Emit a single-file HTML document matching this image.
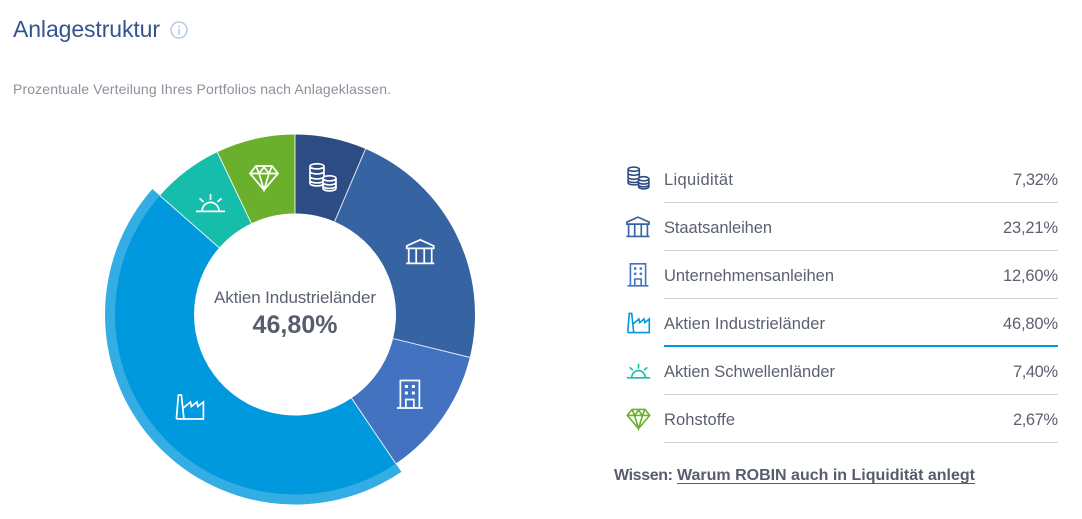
<!DOCTYPE html>
<html lang="de">
<head>
<meta charset="utf-8">
<title>Anlagestruktur</title>
<style>
html,body{margin:0;padding:0;background:#fff;width:1082px;height:519px;overflow:hidden}
svg{display:block}
text{font-family:"Liberation Sans",sans-serif}
.row-label,.row-value{font-size:16.5px;fill:#5b6170}
.row-value{text-anchor:end}
.icon{fill:none;stroke-width:1.7;stroke-linejoin:miter}
.legend-icon{stroke-width:2}
</style>
</head>
<body>
<svg id="chart" xmlns="http://www.w3.org/2000/svg" width="1082" height="519" viewBox="0 0 1082 519">
<defs>
<g id="ic-coins">
<path style="fill:var(--bg,none)" d="M-13,-11 V6 A7,2.6 0 0 0 1,6 V-11 A7,2.6 0 0 0 -13,-11 A7,2.6 0 0 0 1,-11 M-13,-6 A7,2.6 0 0 0 1,-6 M-13,-1 A7,2.6 0 0 0 1,-1 M-13,3 A7,2.6 0 0 0 1,3"/>
<path style="fill:var(--bg,none)" d="M0,1 V11 A6.5,2.6 0 0 0 13,11 V1 A6.5,2.6 0 0 0 0,1 A6.5,2.6 0 0 0 13,1 M0,5 A6.5,2.6 0 0 0 13,5 M0,8.5 A6.5,2.6 0 0 0 13,8.5"/>
</g>
<g id="ic-bank">
<path d="M-13.5,-3.5 V-6 L0,-12 L13.5,-6 V-3.5 Z M-14,11.5 H14 M-11.5,-3.5 V11.5 M-4,-3.5 V11.5 M4,-3.5 V11.5 M11.5,-3.5 V11.5"/>
</g>
<g id="ic-building">
<path d="M-9.5,13.5 V-14 H9.5 V13.5 M-13,13.5 H13 M-4,13.5 V5 H4 V13.5"/>
<path style="fill:currentColor;stroke:none" d="M-5,-9.5 h3 v3 h-3z M2,-9.5 h3 v3 h-3z M-5,-3 h3 v3 h-3z M2,-3 h3 v3 h-3z"/>
</g>
<g id="ic-factory">
<path d="M-13.5,12 L-11.5,-12 H-8.5 L-6,12 M-13.5,12 H13.5 V-5 L8,-0.5 L7,-5 L1.5,-0.5 L0.5,-5 L-6.6,1"/>
</g>
<g id="ic-sunrise">
<path d="M-14.5,8.5 H14.5 M-8.5,8.5 A8.5,9 0 0 1 8.5,8.5 M0,-9 V-3 M-11,-4.5 L-7,-1 M11,-4.5 L7,-1"/>
</g>
<g id="ic-diamond">
<path d="M-8,-12 H8 L14,-4.5 L0,12 L-14,-4.5 Z M-14,-4.5 H14 M-8,-12 L-5,-4.5 L0,12 L5,-4.5 L8,-12 M-5,-4.5 L0,-11 L5,-4.5"/>
</g>
</defs>

<text x="13" y="37" font-size="23" textLength="147" fill="#33558f">Anlagestruktur</text>
<g>
<circle cx="179" cy="30" r="8" fill="none" stroke="#a9c2e6" stroke-width="1.3"/>
<rect x="178.3" y="29" width="1.4" height="5.5" fill="#a9c2e6"/>
<rect x="178.3" y="25.8" width="1.4" height="1.6" fill="#a9c2e6"/>
</g>
<text x="13" y="94" font-size="14" textLength="378" fill="#8b909c">Prozentuale Verteilung Ihres Portfolios nach Anlageklassen.</text>

<g id="donut"></g>

<text x="295" y="303" font-size="17" text-anchor="middle" textLength="162" fill="#5b6170">Aktien Industrieländer</text>
<text x="295" y="333" font-size="25" font-weight="bold" text-anchor="middle" textLength="85" fill="#575d6c">46,80%</text>

<g>
<use href="#ic-coins" class="icon legend-icon" transform="translate(638.5 178) scale(.8)" stroke="#2c4c83" style="--bg:#fff"/>
<text class="row-label" x="664" y="185" textLength="69">Liquidität</text>
<text class="row-value" x="1058" y="185" textLength="45">7,32%</text>
<rect x="664" y="202" width="394" height="1" fill="#d0d1d5"/>
</g>
<g>
<use href="#ic-bank" class="icon legend-icon" transform="translate(638 227) scale(.82)" stroke="#3664a3"/>
<text class="row-label" x="664" y="233" textLength="108">Staatsanleihen</text>
<text class="row-value" x="1058" y="233" textLength="55">23,21%</text>
<rect x="664" y="250" width="394" height="1" fill="#d0d1d5"/>
</g>
<g>
<use href="#ic-building" class="icon legend-icon" transform="translate(638 275) scale(.8)" stroke="#4272c0" color="#4272c0"/>
<text class="row-label" x="664" y="281" textLength="170">Unternehmensanleihen</text>
<text class="row-value" x="1058" y="281" textLength="55">12,60%</text>
<rect x="664" y="298" width="394" height="1" fill="#d0d1d5"/>
</g>
<g>
<use href="#ic-factory" class="icon legend-icon" transform="translate(638.5 323) scale(.8)" stroke="#0099dd"/>
<text class="row-label" x="664" y="329" textLength="161">Aktien Industrieländer</text>
<text class="row-value" x="1058" y="329" textLength="55">46,80%</text>
<rect x="664" y="345" width="394" height="2" fill="#0099dd"/>
</g>
<g>
<use href="#ic-sunrise" class="icon legend-icon" transform="translate(638.5 371) scale(.8)" stroke="#15bdaa"/>
<text class="row-label" x="664" y="377" textLength="171">Aktien Schwellenländer</text>
<text class="row-value" x="1058" y="377" textLength="45">7,40%</text>
<rect x="664" y="394" width="394" height="1" fill="#d0d1d5"/>
</g>
<g>
<use href="#ic-diamond" class="icon legend-icon" transform="translate(638.5 419) scale(.8)" stroke="#6bb02c"/>
<text class="row-label" x="664" y="425" textLength="71">Rohstoffe</text>
<text class="row-value" x="1058" y="425" textLength="45">2,67%</text>
<rect x="664" y="442" width="394" height="1" fill="#d0d1d5"/>
</g>

<text x="614" y="480" font-size="16" font-weight="bold" textLength="59" fill="#575d6c">Wissen:</text>
<g>
<text x="677" y="480" font-size="16" font-weight="bold" textLength="298" fill="#575d6c">Warum ROBIN auch in Liquidität anlegt</text>
<rect x="677" y="483" width="298" height="1" fill="#575d6c"/>
</g>
</svg>

<script>
// Arc shares as drawn in the picture (percent of the ring, read from the slice boundaries)
const sliceNames = ['liquiditaet', 'staatsanleihen', 'unternehmensanleihen', 'aktien-industrielaender', 'aktien-schwellenlaender', 'rohstoffe'];
const sliceShares = [6.4, 22.4, 11.7, 45.9, 6.4, 7.1];
const activeSlice = 'aktien-industrielaender';

const sliceColors = ['#2c4c83', '#3664a3', '#4272c0', '#0099dd', '#15bdaa', '#6bb02c'];
const sliceIcons = ['ic-coins', 'ic-bank', 'ic-building', 'ic-factory', 'ic-sunrise', 'ic-diamond'];

const NS = 'http://www.w3.org/2000/svg';
const cx = 295, cy = 314.5, rInner = 101, rOuter = 180, rActive = 190, rIcon = 140;
const donut = document.getElementById('donut');
const total = sliceShares.reduce((a, b) => a + b, 0);

function angleOf(share) { return share / total * Math.PI * 2; }
function px(r, a) { return cx + r * Math.sin(a); }
function py(r, a) { return cy - r * Math.cos(a); }
function arcPath(r0, r1, a0, a1) {
  const large = a1 - a0 > Math.PI ? 1 : 0;
  return 'M' + px(r0, a0) + ',' + py(r0, a0) +
    'L' + px(r1, a0) + ',' + py(r1, a0) +
    'A' + r1 + ',' + r1 + ' 0 ' + large + ' 1 ' + px(r1, a1) + ',' + py(r1, a1) +
    'L' + px(r0, a1) + ',' + py(r0, a1) +
    'A' + r0 + ',' + r0 + ' 0 ' + large + ' 0 ' + px(r0, a0) + ',' + py(r0, a0) + 'Z';
}

let start = 0;
const iconLayer = [];
const boundaries = [];
sliceShares.forEach(function (share, i) {
  const end = start + angleOf(share);
  if (sliceNames[i] === activeSlice) {
    const halo = document.createElementNS(NS, 'path');
    
    
    halo.setAttribute('d', arcPath(rOuter - 1, rActive, start, end));
    halo.setAttribute('fill', sliceColors[i]);
    halo.setAttribute('fill-opacity', '0.8');
    donut.appendChild(halo);
  }
  const slice = document.createElementNS(NS, 'path');
  
  
  slice.setAttribute('d', arcPath(rInner, rOuter, start, end));
  slice.setAttribute('fill', sliceColors[i]);
  donut.appendChild(slice);
  iconLayer.push({ i: i, a: (start + end) / 2 });
  boundaries.push(start);
  start = end;
});

boundaries.forEach(function (a, i) {
  const sep = document.createElementNS(NS, 'line');
  
  
  sep.setAttribute('x1', px(rInner, a));
  sep.setAttribute('y1', py(rInner, a));
  sep.setAttribute('x2', px(rOuter, a));
  sep.setAttribute('y2', py(rOuter, a));
  sep.setAttribute('stroke', '#fff');
  sep.setAttribute('stroke-width', '1');
  sep.setAttribute('stroke-opacity', '0.85');
  donut.appendChild(sep);
});

iconLayer.forEach(function (item) {
  const icon = document.createElementNS(NS, 'use');
  
  
  icon.setAttribute('href', '#' + sliceIcons[item.i]);
  icon.setAttribute('class', 'icon');
  icon.setAttribute('stroke', '#fff');
  icon.setAttribute('color', '#fff');
  icon.style.setProperty('--bg', sliceColors[item.i]);
  icon.setAttribute('transform', 'translate(' + px(rIcon, item.a) + ' ' + py(rIcon, item.a) + ')');
  donut.appendChild(icon);
});
</script>
</body>
</html>
